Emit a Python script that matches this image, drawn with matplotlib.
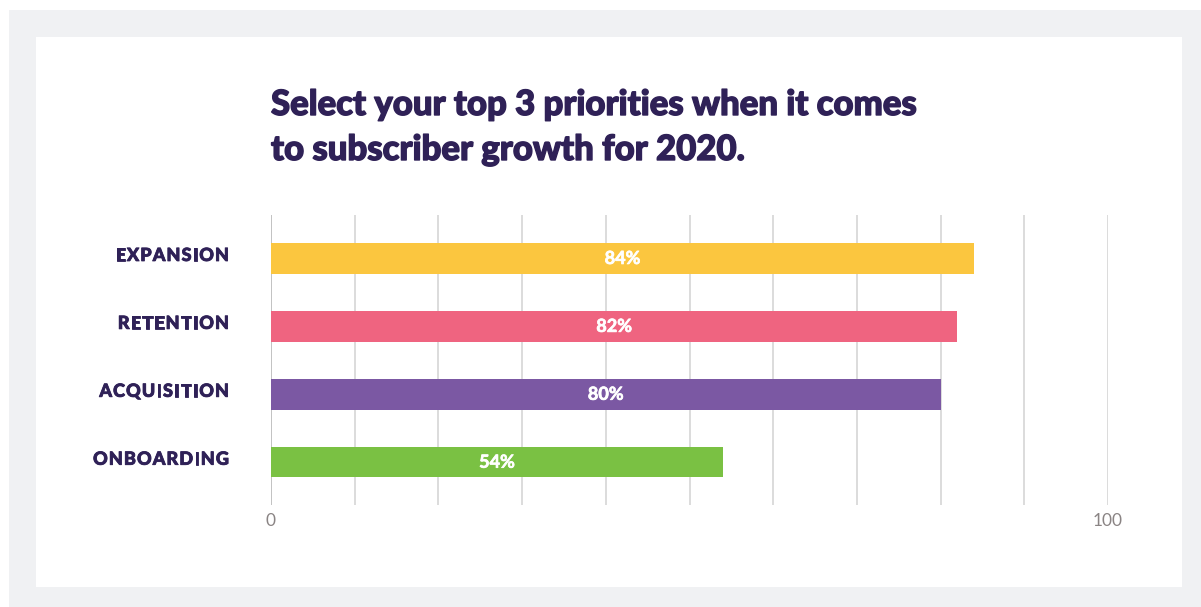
import matplotlib
matplotlib.use("Agg")
import matplotlib.pyplot as plt
import matplotlib.patheffects as pe
from matplotlib.patches import Rectangle
from matplotlib.transforms import IdentityTransform

categories = ["EXPANSION", "RETENTION", "ACQUISITION", "ONBOARDING"]
values = [84, 82, 80, 54]
bar_colors = ["#FBC63F", "#EF6480", "#7B58A3", "#7AC143"]
tick_values = [0, 100]
title = "Select your top 3 priorities when it comes\nto subscriber growth for 2020."

INK = "#2F2157"
FONT = ["Lato", "DejaVu Sans"]

W, H, DPI = 1201, 607, 100
fig = plt.figure(figsize=(W / DPI, H / DPI), dpi=DPI)
fig.patch.set_facecolor("white")

# Framed card: light gray surround with a white panel
fig.patches.append(Rectangle((9 / W, 0), 1 - 9 / W, 1 - 10 / H, transform=fig.transFigure,
                             facecolor="#F0F1F3", edgecolor="none", zorder=-10))
fig.patches.append(Rectangle((36 / W, 1 - 587 / H), (1182 - 36) / W, (587 - 37) / H,
                             transform=fig.transFigure, facecolor="white",
                             edgecolor="none", zorder=-9))

ax = fig.add_axes([271 / W, 1 - 505 / H, (1108 - 271) / W, (505 - 215) / H])
ax.set_facecolor("none")
ypos = list(range(len(categories)))
ax.barh(ypos, values, height=0.45, color=bar_colors, zorder=3)
ax.set_xlim(0, 100)
ax.set_ylim(3.63, -0.64)

for g in range(0, 101, 10):
    ax.axvline(g, color="#BDBDBD" if g == 0 else "#D9D9D9", lw=1.3, zorder=1)

for s in ax.spines.values():
    s.set_visible(False)
ax.set_yticks([])
ax.set_xticks(tick_values)
ax.set_xticklabels([str(t) for t in tick_values], fontsize=12.5, color="#8A8484",
                   family=FONT)
ax.tick_params(axis="x", length=0, pad=6)


def heavy(color, w):
    return [pe.withStroke(linewidth=w, foreground=color)]


for y, v in zip(ypos, values):
    ax.text(v / 2, y, f"{v}%", ha="center", va="center", color="white",
            fontsize=13, fontweight="bold", family=FONT, zorder=4,
            path_effects=heavy("white", 0.5))

fig.text(271 / W, 1 - 89 / H, title, ha="left", va="top", fontsize=25,
         fontweight="black", color=INK, family=FONT, linespacing=1.5,
         path_effects=heavy(INK, 1.0))

# Category labels with letter tracking, right-aligned to a common edge
fig.canvas.draw()
renderer = fig.canvas.get_renderer()
right_edge = 229
tracking = 1.1
LABEL_SIZE = 13


def char_width(ch):
    t = fig.text(0, 0, ch, fontsize=LABEL_SIZE, fontweight="black", family=FONT,
                 transform=IdentityTransform())
    w = t.get_window_extent(renderer).width
    t.remove()
    return w


for y, name in zip(ypos, categories):
    widths = [char_width(c) for c in name]
    total = sum(widths) + tracking * (len(name) - 1)
    _, yd = ax.transData.transform((0, y))
    x = right_edge - total
    for c, w in zip(name, widths):
        fig.text(x, yd + 3, c, ha="left", va="center", fontsize=LABEL_SIZE,
                 fontweight="black", color=INK, family=FONT,
                 transform=IdentityTransform(), path_effects=heavy(INK, 0.6))
        x += w + tracking

fig.savefig("out.png", dpi=DPI, facecolor=fig.get_facecolor())
